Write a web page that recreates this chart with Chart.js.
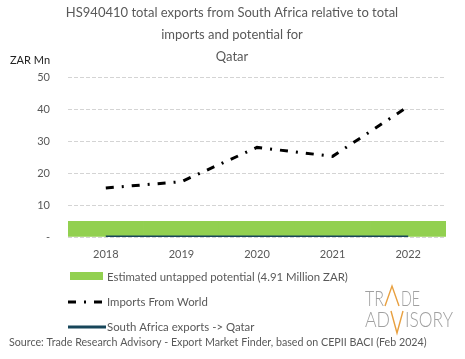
<!DOCTYPE html>
<html><head><meta charset="utf-8">
<script src="https://cdn.jsdelivr.net/npm/chart.js@4"></script>
<style>html,body{margin:0;padding:0;background:#fff}#wrap{width:465px;height:359px}</style>
</head><body><div id="wrap"><canvas id="c" width="465" height="359"></canvas></div>
<script>
const categories = ['2018','2019','2020','2021','2022'];
const importsFromWorld = [15.3, 17.3, 28.0, 25.2, 40.8];
const saExports = [0, 0, 0, 0, 0];
const untappedPotential = [4.91, 4.91, 4.91, 4.91, 4.91];
const yTicks = [0, 10, 20, 30, 40, 50];
const titleLines = ['HS940410 total exports from South Africa relative to total','imports and potential for','Qatar'];
const legendLabels = ['Estimated untapped potential (4.91 Million ZAR)','Imports From World','South Africa exports -> Qatar'];
const sourceText = 'Source: Trade Research Advisory - Export Market Finder, based on CEPII BACI (Feb 2024)';
const FONT = 'Lato, "Open Sans", sans-serif';
const GREY = '#595959';

const decor = {
  id: 'decor',
  afterDraw(chart) {
    const ctx = chart.ctx;
    ctx.save();
    ctx.fillStyle = GREY;
    ctx.textAlign = 'center';
    ctx.textBaseline = 'middle';
    ctx.font = '13px ' + FONT;
    titleLines.forEach((t, i) => ctx.fillText(t, 232, 13 + i * 22));
    ctx.textAlign = 'left';
    ctx.fillStyle = '#222';
    ctx.font = '11px ' + FONT;
    ctx.fillText('ZAR Mn', 10, 60);
    // legend
    ctx.fillStyle = '#92D050';
    ctx.fillRect(70, 272, 33, 8);
    ctx.strokeStyle = '#000';
    ctx.lineWidth = 3;
    ctx.setLineDash([8, 8, 2, 8]);
    ctx.beginPath(); ctx.moveTo(68, 302); ctx.lineTo(106, 302); ctx.stroke();
    ctx.setLineDash([]);
    ctx.strokeStyle = '#17465A';
    ctx.beginPath(); ctx.moveTo(68, 327); ctx.lineTo(106, 327); ctx.stroke();
    ctx.fillStyle = GREY;
    ctx.font = '11.4px ' + FONT;
    legendLabels.forEach((t, i) => ctx.fillText(t, 107, 277 + i * 25));
    // source
    ctx.font = '10.7px ' + FONT;
    ctx.fillText(sourceText, 9, 343);
    // logo
    ctx.font = '300 21px ' + FONT;
    ctx.fillStyle = '#a0a0a0';
    ctx.textBaseline = 'alphabetic';
    ctx.fillText('TR', 365, 306, 19);
    ctx.fillText('DE', 401, 306, 19);
    ctx.fillText('AD', 365, 327, 25);
    ctx.fillText('ISORY', 405, 327, 48);
    ctx.strokeStyle = '#E8A040';
    ctx.lineWidth = 1.4;
    ctx.beginPath();
    ctx.moveTo(385, 306); ctx.lineTo(392, 286); ctx.lineTo(399, 306);
    ctx.moveTo(391, 311); ctx.lineTo(397, 333); ctx.lineTo(403, 311);
    ctx.stroke();
    ctx.restore();
  }
};

new Chart(document.getElementById('c'), {
  data: {
    labels: categories,
    datasets: [
      { type: 'line', label: legendLabels[2], data: saExports, borderColor: '#17465A', borderWidth: 3, pointRadius: 0, order: 1 },
      { type: 'line', label: legendLabels[1], data: importsFromWorld, borderColor: '#000', borderWidth: 3, borderDash: [8, 8, 2, 8], pointRadius: 0, tension: 0, order: 2 },
      { type: 'bar', label: legendLabels[0], data: untappedPotential, backgroundColor: '#92D050', barPercentage: 1, categoryPercentage: 1, order: 3 }
    ]
  },
  options: {
    responsive: false,
    animation: false,
    layout: { padding: { top: 77, right: 19, bottom: 100, left: 0 } },
    plugins: { legend: { display: false }, tooltip: { enabled: false } },
    scales: {
      x: {
        grid: { display: false },
        border: { display: false },
        ticks: { color: GREY, font: { family: FONT, size: 11 }, padding: 3 },
        afterFit(s) { s.height = 22; }
      },
      y: {
        min: 0, max: 50,
        afterBuildTicks(s) { s.ticks = yTicks.map(v => ({ value: v })); },
        grid: { color: '#d4d4d4', drawTicks: false, lineWidth: 1 },
        border: { display: false, dash: [4, 2] },
        ticks: { color: GREY, font: { family: FONT, size: 11 }, padding: 18, callback: v => v === 0 ? '-' : v },
        afterFit(s) { s.width = 68; }
      }
    }
  },
  plugins: [decor]
});
</script></body></html>
